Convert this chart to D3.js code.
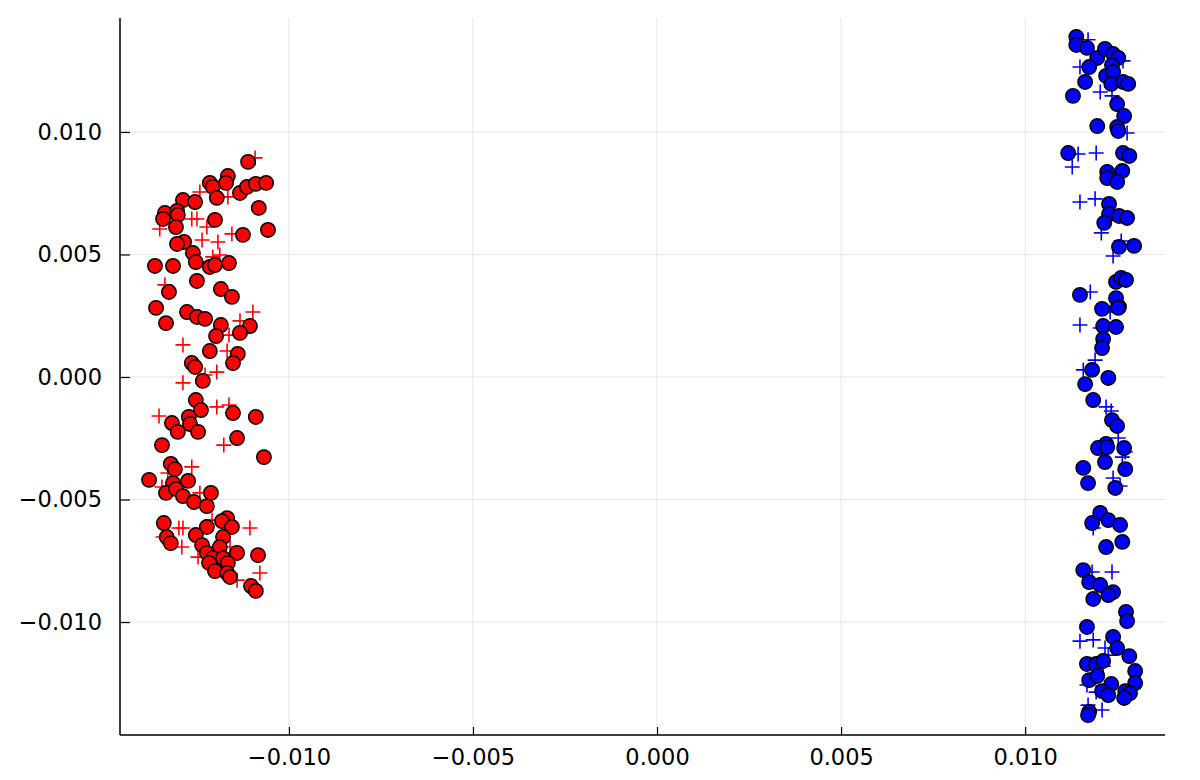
<!DOCTYPE html>
<html><head><meta charset="utf-8">
<script src="https://cdn.jsdelivr.net/npm/d3@7"></script>
<style>body{margin:0;background:#fff}svg{display:block}</style>
</head><body>
<svg id="chart" width="1200" height="780"></svg>
<script>
// ---- data ----
const xTicks = [-0.010, -0.005, 0.000, 0.005, 0.010];
const yTicks = [-0.010, -0.005, 0.000, 0.005, 0.010];

const redCircleX = [-0.01111,-0.01166,-0.01215,-0.01207,-0.01171,-0.01196,-0.01133,-0.01114,-0.01090,-0.01062,
-0.01288,-0.01255,-0.01082,-0.01337,-0.01304,-0.01342,-0.01302,-0.01201,-0.01307,-0.01057,
-0.01125,-0.01285,-0.01304,-0.01261,-0.01364,-0.01315,-0.01253,-0.01215,-0.01201,-0.01163,
-0.01250,-0.01185,-0.01155,-0.01326,-0.01361,-0.01277,-0.01250,-0.01228,-0.01334,-0.01185,
-0.01106,-0.01133,-0.01198,-0.01215,-0.01139,-0.01152,-0.01264,-0.01255,-0.01234,-0.01253,
-0.01239,-0.01152,-0.01090,-0.01272,-0.01318,-0.01269,-0.01302,-0.01247,-0.01141,-0.01345,
-0.01068,-0.01321,-0.01310,-0.01380,-0.01274,-0.01315,-0.01334,-0.01307,-0.01288,-0.01258,
-0.01223,-0.01212,-0.01340,-0.01168,-0.01182,-0.01155,-0.01223,-0.01253,-0.01179,-0.01332,
-0.01321,-0.01236,-0.01188,-0.01084,-0.01141,-0.01223,-0.01207,-0.01179,-0.01217,-0.01166,
-0.01201,-0.01168,-0.01160,-0.01103,-0.01090];
const redCircleY = [0.00878,0.00820,0.00792,0.00776,0.00792,0.00731,0.00751,0.00776,0.00788,0.00792,
0.00722,0.00714,0.00690,0.00669,0.00678,0.00645,0.00661,0.00641,0.00612,0.00600,
0.00580,0.00551,0.00543,0.00506,0.00453,0.00453,0.00469,0.00449,0.00457,0.00465,
0.00392,0.00359,0.00327,0.00347,0.00282,0.00265,0.00245,0.00237,0.00220,0.00212,
0.00208,0.00180,0.00167,0.00106,0.00094,0.00057,0.00057,0.00041,-0.00016,-0.00094,
-0.00135,-0.00147,-0.00163,-0.00163,-0.00188,-0.00192,-0.00224,-0.00224,-0.00249,-0.00278,
-0.00327,-0.00355,-0.00376,-0.00420,-0.00424,-0.00433,-0.00473,-0.00457,-0.00486,-0.00510,
-0.00527,-0.00473,-0.00596,-0.00576,-0.00588,-0.00612,-0.00612,-0.00645,-0.00653,-0.00653,
-0.00678,-0.00686,-0.00694,-0.00727,-0.00718,-0.00718,-0.00739,-0.00739,-0.00759,-0.00759,
-0.00792,-0.00800,-0.00816,-0.00853,-0.00873];

const redPlusX = [-0.01092,-0.01242,-0.01166,-0.01264,-0.01250,-0.01351,-0.01223,-0.01155,-0.01236,-0.01193,
-0.01207,-0.01188,-0.01337,-0.01098,-0.01133,-0.01163,-0.01288,-0.01168,-0.01196,-0.01228,
-0.01288,-0.01196,-0.01163,-0.01353,-0.01177,-0.01264,-0.01329,-0.01345,-0.01242,-0.01299,
-0.01288,-0.01342,-0.01106,-0.01291,-0.01247,-0.01160,-0.01141,-0.01079,-0.01209];
const redPlusY = [0.00894,0.00755,0.00735,0.00645,0.00645,0.00604,0.00612,0.00584,0.00559,0.00551,
0.00490,0.00498,0.00376,0.00265,0.00229,0.00171,0.00131,0.00106,0.00020,0.00008,
-0.00024,-0.00122,-0.00114,-0.00159,-0.00278,-0.00367,-0.00392,-0.00449,-0.00473,-0.00616,
-0.00616,-0.00653,-0.00616,-0.00694,-0.00735,-0.00694,-0.00829,-0.00800,-0.00584];

const blueCircleX = [0.01139,0.01139,0.01168,0.01196,0.01217,0.01239,0.01253,0.01174,0.01236,0.01220,
0.01239,0.01234,0.01266,0.01280,0.01163,0.01130,0.01250,0.01269,0.01196,0.01250,
0.01253,0.01117,0.01266,0.01283,0.01223,0.01264,0.01223,0.01250,0.01228,0.01228,
0.01255,0.01277,0.01215,0.01255,0.01296,0.01247,0.01261,0.01274,0.01149,0.01247,
0.01255,0.01209,0.01253,0.01212,0.01247,0.01212,0.01209,0.01182,0.01163,0.01226,
0.01185,0.01236,0.01250,0.01220,0.01198,0.01269,0.01223,0.01217,0.01158,0.01272,
0.01171,0.01245,0.01204,0.01182,0.01226,0.01258,0.01220,0.01264,0.01158,0.01174,
0.01204,0.01239,0.01226,0.01185,0.01274,0.01277,0.01168,0.01239,0.01250,0.01283,
0.01168,0.01193,0.01212,0.01299,0.01174,0.01196,0.01299,0.01234,0.01209,0.01226,
0.01272,0.01285,0.01269,0.01174,0.01171];
const blueCircleY = [0.01388,0.01355,0.01343,0.01302,0.01339,0.01318,0.01302,0.01265,0.01273,0.01229,
0.01245,0.01196,0.01204,0.01196,0.01204,0.01147,0.01114,0.01065,0.01024,0.01020,
0.01004,0.00914,0.00914,0.00902,0.00837,0.00841,0.00812,0.00796,0.00706,0.00665,
0.00657,0.00649,0.00629,0.00531,0.00535,0.00388,0.00404,0.00396,0.00335,0.00322,
0.00286,0.00278,0.00282,0.00208,0.00204,0.00155,0.00118,0.00029,-0.00029,-0.00004,
-0.00094,-0.00176,-0.00200,-0.00273,-0.00290,-0.00290,-0.00286,-0.00347,-0.00371,-0.00376,
-0.00433,-0.00453,-0.00555,-0.00596,-0.00584,-0.00604,-0.00694,-0.00673,-0.00788,-0.00837,
-0.00849,-0.00878,-0.00890,-0.00906,-0.00959,-0.00996,-0.01020,-0.01061,-0.01106,-0.01139,
-0.01171,-0.01171,-0.01159,-0.01200,-0.01237,-0.01220,-0.01249,-0.01253,-0.01282,-0.01298,
-0.01282,-0.01290,-0.01310,-0.01367,-0.01380];

const bluePlusX = [0.01171,0.01149,0.01266,0.01204,0.01236,0.01277,0.01144,0.01193,0.01128,0.01149,
0.01190,0.01207,0.01261,0.01239,0.01177,0.01231,0.01149,0.01204,0.01190,0.01158,
0.01220,0.01234,0.01253,0.01272,0.01264,0.01239,0.01258,0.01185,0.01236,0.01182,
0.01149,0.01185,0.01217,0.01226,0.01212,0.01168,0.01193,0.01209,0.01171];
const bluePlusY = [0.01376,0.01265,0.01290,0.01163,0.01147,0.00996,0.00910,0.00914,0.00857,0.00714,
0.00727,0.00588,0.00555,0.00494,0.00347,0.00265,0.00212,0.00200,0.00069,0.00029,
-0.00122,-0.00139,-0.00249,-0.00306,-0.00327,-0.00412,-0.00445,-0.00616,-0.00796,-0.00796,
-0.01078,-0.01073,-0.01106,-0.01135,-0.01180,-0.01257,-0.01286,-0.01359,-0.01339];

// ---- layout ----
const svg = d3.select("#chart");
const L = 120, R = 1165, T = 18, B = 735;
const x = d3.scaleLinear().domain([-0.01459, 0.01380]).range([L, R]);
const y = d3.scaleLinear().domain([-0.01461, 0.01465]).range([B, T]);
const fmt = v => (v < 0 ? "\u2212" : "") + Math.abs(v).toFixed(3);
const font = "DejaVu Sans";

// grid
svg.append("g").selectAll("line").data(xTicks).join("line")
  .attr("x1", d => x(d)).attr("x2", d => x(d)).attr("y1", T).attr("y2", B)
  .attr("stroke", "#000").attr("stroke-opacity", 0.1).attr("stroke-width", 1);
svg.append("g").selectAll("line").data(yTicks).join("line")
  .attr("y1", d => y(d)).attr("y2", d => y(d)).attr("x1", L).attr("x2", R)
  .attr("stroke", "#000").attr("stroke-opacity", 0.1).attr("stroke-width", 1);

// axes
const xAxis = d3.axisBottom(x).tickValues(xTicks).tickSize(-8).tickPadding(14).tickFormat(fmt);
const yAxis = d3.axisLeft(y).tickValues(yTicks).tickSize(-10).tickPadding(18).tickFormat(fmt);
const gx = svg.append("g").attr("transform", `translate(0,${B})`).call(xAxis);
const gy = svg.append("g").attr("transform", `translate(${L},0)`).call(yAxis);
[gx, gy].forEach(g => {
  g.select(".domain").remove();
  g.selectAll("text").attr("font-family", font).attr("font-size", 22.5).attr("fill", "#000");
  g.selectAll("line").attr("stroke", "#000").attr("stroke-width", 1.2);
});
svg.append("line").attr("x1", L).attr("x2", L).attr("y1", T).attr("y2", B).attr("stroke", "#000").attr("stroke-width", 1.5);
svg.append("line").attr("x1", L).attr("x2", R).attr("y1", B).attr("y2", B).attr("stroke", "#000").attr("stroke-width", 1.5);

// markers
function plus(xs, ys, color) {
  const g = svg.append("g");
  const s = 7.5;
  g.selectAll("path").data(d3.range(xs.length)).join("path")
    .attr("d", i => `M${x(xs[i]) - s},${y(ys[i])}H${x(xs[i]) + s}M${x(xs[i])},${y(ys[i]) - s}V${y(ys[i]) + s}`)
    .attr("stroke", color).attr("stroke-width", 1.6).attr("fill", "none");
}
function circles(xs, ys, color) {
  svg.append("g").selectAll("circle").data(d3.range(xs.length)).join("circle")
    .attr("cx", i => x(xs[i])).attr("cy", i => y(ys[i])).attr("r", 7.2)
    .attr("fill", color).attr("stroke", "#000").attr("stroke-width", 1.5);
}
plus(redPlusX, redPlusY, "#ff0000");
circles(redCircleX, redCircleY, "#ff0000");
plus(bluePlusX, bluePlusY, "#0000ff");
circles(blueCircleX, blueCircleY, "#0000ff");
</script>
</body></html>
